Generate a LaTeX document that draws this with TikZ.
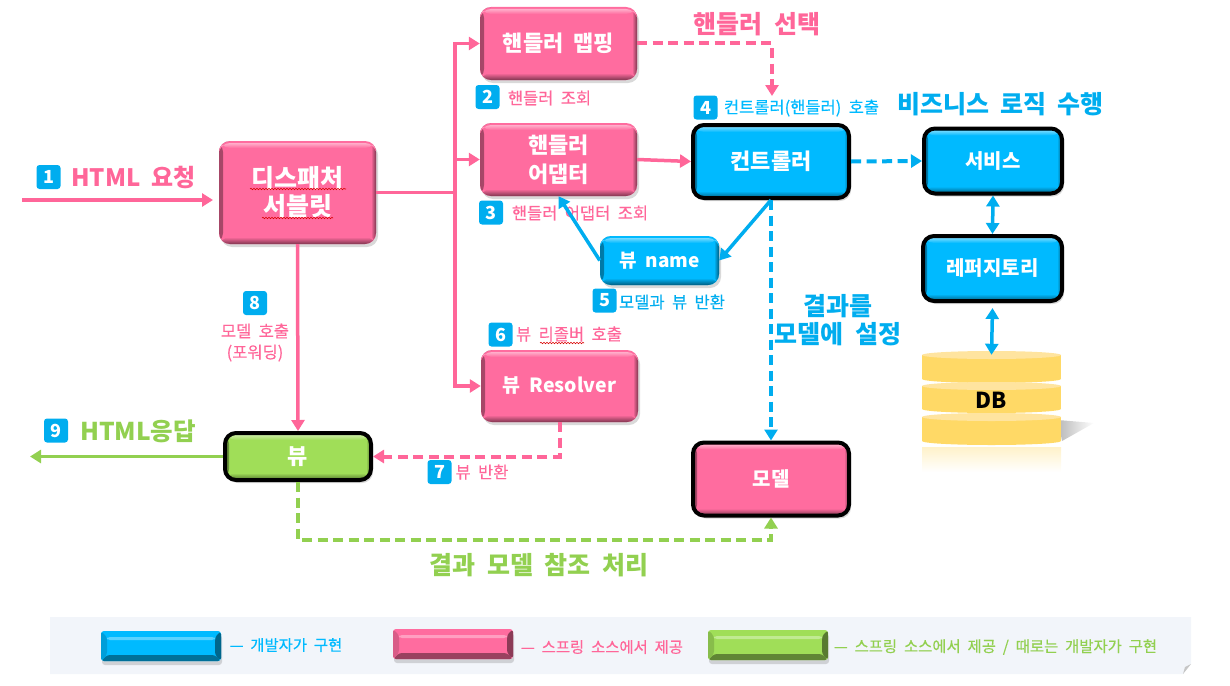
\documentclass[tikz,border=0pt]{standalone}
\usepackage{fontspec}
\setmainfont{Noto Sans CJK KR}[WordSpace=2]
\newfontfamily\medfont{Noto Sans CJK KR}[WordSpace=2,FakeBold=0.35]
\usetikzlibrary{arrows.meta,shadows,decorations.pathmorphing}
\definecolor{pinkline}{HTML}{FF6699}
\definecolor{pinkfill}{HTML}{FF6C9F}
\definecolor{blueline}{HTML}{00ADEF}
\definecolor{bluefill}{HTML}{00BAFF}
\definecolor{greenline}{HTML}{92D050}
\definecolor{greenfill}{HTML}{A0DE58}
\definecolor{dbbody}{HTML}{FFD966}
\definecolor{dbtop}{HTML}{FFE49F}
\definecolor{legendback}{HTML}{F2F5FA}
\begin{document}
\begin{tikzpicture}
[x=1pt,y=-1pt,>={Triangle[length=11pt,width=13pt]},
bevel/.style={rounded corners=11pt,fill=#1,text=white,align=center,inner sep=0pt,
  font=\fontsize{22}{29}\selectfont\bfseries,
  drop shadow={opacity=.3,shadow xshift=2pt,shadow yshift=-3pt},
  path picture={
    \shade[left color=#1!65!black,right color=#1] (path picture bounding box.north west) rectangle ([xshift=4pt]path picture bounding box.south west);
    \shade[left color=#1,right color=#1!50!black] ([xshift=-5pt]path picture bounding box.north east) rectangle (path picture bounding box.south east);
    \shade[top color=#1,bottom color=#1!50!black] ([yshift=7pt]path picture bounding box.south west) rectangle (path picture bounding box.south east);
    \shade[top color=#1!55!white,bottom color=#1] ([yshift=-2pt]path picture bounding box.north west) rectangle ([yshift=-7pt]path picture bounding box.north east);
  }},
framed/.style={bevel=#1,draw=black,line width=4pt},
bar/.style={rounded corners=3pt,fill=#1,inner sep=0pt,minimum width=120pt,minimum height=30pt,
  drop shadow={opacity=.3,shadow xshift=1pt,shadow yshift=-4pt},
  path picture={
    \fill[#1!60!black] ([xshift=6pt,yshift=6pt]path picture bounding box.south west) -- (path picture bounding box.south west) -- (path picture bounding box.south east) -- ([xshift=-6pt,yshift=6pt]path picture bounding box.south east) -- cycle;
    \fill[#1!55!black] ([xshift=-6pt,yshift=6pt]path picture bounding box.south east) -- (path picture bounding box.south east) -- (path picture bounding box.north east) -- ([xshift=-6pt,yshift=-6pt]path picture bounding box.north east) -- cycle;
    \fill[#1!85!black] ([xshift=6pt,yshift=6pt]path picture bounding box.south west) -- (path picture bounding box.south west) -- (path picture bounding box.north west) -- ([xshift=6pt,yshift=-6pt]path picture bounding box.north west) -- cycle;
    \fill[#1!65!white] ([xshift=6pt,yshift=-6pt]path picture bounding box.north west) rectangle ([xshift=-6pt,yshift=-9pt]path picture bounding box.north east);
  }},
badge/.style={fill=blueline,rounded corners=3pt,text=white,inner sep=0pt,minimum size=24pt,
  font=\fontsize{18}{18}\selectfont\bfseries},
biglabel/.style={text=#1,inner sep=0pt,font=\fontsize{25}{28}\selectfont\bfseries},
smalllabel/.style={text=#1,inner sep=0pt,align=center,font=\medfont\fontsize{16.5}{21}\selectfont},
legendlabel/.style={text=#1,inner sep=0pt,font=\medfont\fontsize{15.4}{18}\selectfont},
solidline/.style={draw=#1,line width=3.5pt},
dashline/.style={draw=#1,line width=4pt,dash pattern=on 10pt off 5.5pt},
squiggle/.style={draw=red!85!black,line width=.6pt,decorate,decoration={snake,amplitude=.7pt,segment length=3pt}},
]
\useasboundingbox (0,0) rectangle (1230,685);
% legend
\fill[legendback] (50,617) -- (1191,617) -- (1191,664) -- (1183,674) -- (50,674) -- cycle;
\fill[gray!45] (1183,674) -- (1185,667) -- (1191,664) -- cycle;
\node (barblue) at (161,646)[bar=bluefill] {};
\node (barpink) at (453,644)[bar=pinkfill] {};
\node (bargreen) at (768,645)[bar=greenfill] {};
\node (legblue) at (286,645)[legendlabel=bluefill] {— 개발자가 구현};
\node (legpink) at (602,647)[legendlabel=pinkline] {— 스프링 소스에서 제공};
\node (leggreen) at (995.5,647)[legendlabel=greenline] {— 스프링 소스에서 제공 / 때로는 개발자가 구현};

% boxes
\node (dispatcher) at (297.5,192.5)[bevel=pinkfill,minimum width=157pt,minimum height=103pt,font=\fontsize{25}{28}\selectfont\bfseries] {디스패처\\서블릿};
\node (mapping) at (558.5,43.5)[bevel=pinkfill,minimum width=157pt,minimum height=73pt] {핸들러 맵핑};
\node (adapter) at (558.5,159.5)[bevel=pinkfill,minimum width=157pt,minimum height=73pt] {핸들러\\어댑터};
\node (controller) at (771,161.5)[framed=bluefill,minimum width=156pt,minimum height=73pt] {컨트롤러};
\node (service) at (993,161)[framed=bluefill,minimum width=138pt,minimum height=65pt,font=\fontsize{20}{24}\selectfont\bfseries] {서비스};
\node (repository) at (992.5,268.5)[framed=bluefill,minimum width=139pt,minimum height=65pt,font=\fontsize{20}{24}\selectfont\bfseries] {레퍼지토리};
\node (viewname) at (659.5,260.5)[bevel=bluefill,minimum width=119pt,minimum height=49pt,font=\fontsize{19}{24}\selectfont\bfseries] {뷰 name};
\node (resolver) at (559.5,386)[bevel=pinkfill,minimum width=157pt,minimum height=72pt,font=\fontsize{19.5}{24}\selectfont\bfseries] {뷰 Resolver};
\node (view) at (298,456.5)[framed=greenfill,minimum width=146pt,minimum height=47pt] {뷰};
\node (model) at (771,479)[framed=pinkfill,minimum width=156pt,minimum height=73pt,font=\fontsize{20}{24}\selectfont\bfseries] {모델};

% db
\shade[left color=gray!55,right color=white] (1058,420) -- (1094,423) -- (1062,441) -- cycle;
\shade[top color=dbbody!35,bottom color=white] (922,447) rectangle (1061,472);
\fill[dbbody] (922,355) rectangle (1061,379);
\fill[dbbody] (991.5,379) ellipse (69.5 and 4);
\fill[dbtop] (991.5,355) ellipse (69.5 and 4);
\fill[dbbody] (922,386) rectangle (1061,409);
\fill[dbbody] (991.5,409) ellipse (69.5 and 4);
\fill[dbtop] (991.5,386) ellipse (69.5 and 4);
\fill[dbbody] (922,417) rectangle (1061,441);
\fill[dbbody] (991.5,441) ellipse (69.5 and 4);
\fill[dbtop] (991.5,417) ellipse (69.5 and 4);
\node (db) at (991.5,400)[inner sep=0pt,minimum width=139pt,minimum height=96pt,text=black,font=\fontsize{22}{24}\selectfont\bfseries] {DB};

% badges and labels
\node (one) at (48.5,177)[badge] {1};
\node (two) at (487.5,97)[badge] {2};
\node (three) at (491,212.5)[badge] {3};
\node (four) at (705.5,107.5)[badge] {4};
\node (five) at (604.5,300.5)[badge] {5};
\node (six) at (500.5,334.5)[badge] {6};
\node (seven) at (439.5,472)[badge] {7};
\node (eight) at (255,303)[badge] {8};
\node (nine) at (56,430.5)[badge] {9};
\node (lblreq) at (133.5,177)[biglabel=pinkline,font=\fontsize{24}{28}\selectfont\bfseries] {HTML 요청};
\node (lblselect) at (757,24)[biglabel=pinkline] {핸들러 선택};
\node (lblbiz) at (1000.5,104)[biglabel=blueline] {비즈니스 로직 수행};
\node (lblresult) at (838,320)[biglabel=blueline,align=center] {결과를\\모델에 설정};
\node (lblres) at (138,431)[biglabel=greenline,font=\fontsize{24.5}{28}\selectfont\bfseries] {HTML응답};
\node (lblref) at (539,565)[biglabel=greenline] {결과 모델 참조 처리};
\node (lblfind) at (549.5,98)[smalllabel=pinkline] {핸들러 조회};
\node (lblfindad) at (580,213)[smalllabel=pinkline] {핸들러 어댑터 조회};
\node (lblcall) at (801.5,108)[smalllabel=bluefill] {컨트롤러(핸들러) 호출};
\node (lblret) at (672,302)[smalllabel=blueline] {모델과 뷰 반환};
\node (lblview) at (569,334)[smalllabel=pinkline] {뷰 리졸버 호출};
\node (lblback) at (482,472)[smalllabel=pinkline] {뷰 반환};
\node (lblcallm) at (255,342.5)[smalllabel=pinkline] {모델 호출\\(포워딩)};

% spell check marks
\draw[squiggle] (250,189) -- (346,189);
\draw[squiggle] (262,218) -- (333,218);
\draw[squiggle] (540,343) -- (584,343);

% connectors
\coordinate (reqstart) at (22,200);
\coordinate (reqend) at (213,200);
\coordinate (trunk) at (455,192.5);
\coordinate (selectend) at (772,96);
\coordinate (resend) at (30,456.5);
\draw[solidline=pinkline,->] (reqstart)--(reqend);
\draw[solidline=pinkline] (dispatcher.east)--(trunk);
\draw[solidline=pinkline,->] (trunk) |- (mapping.west);
\draw[solidline=pinkline,->] (trunk) |- (adapter.west);
\draw[solidline=pinkline,->] (trunk) |- (resolver.west);
\draw[solidline=pinkline,->] (dispatcher.south)--(view.north);
\draw[dashline=pinkline,->] (mapping.east) -| (selectend);
\draw[solidline=pinkline,->] (adapter.east)--(controller.west);
\draw[dashline=blueline,->] (controller.east)--(service.west);
\draw[solidline=blueline,<->] (service.south)--(repository.north);
\draw[solidline=blueline,<->] ([yshift=-5pt]repository.south)--([yshift=-3pt]db.north);
\draw[solidline=blueline,->] (controller.south)--(viewname.east);
\draw[solidline=blueline,->] (viewname.west)--(adapter.south);
\draw[dashline=blueline,->] (controller.south)--(model.north);
\draw[dashline=pinkline,->] (resolver.south) |- (view.east);
\draw[solidline=greenline,->] (view.west)--(resend);
\draw[dashline=greenline,->] (view.south) -- ++(0,58) -| (model.south);
\end{tikzpicture}
\end{document}
